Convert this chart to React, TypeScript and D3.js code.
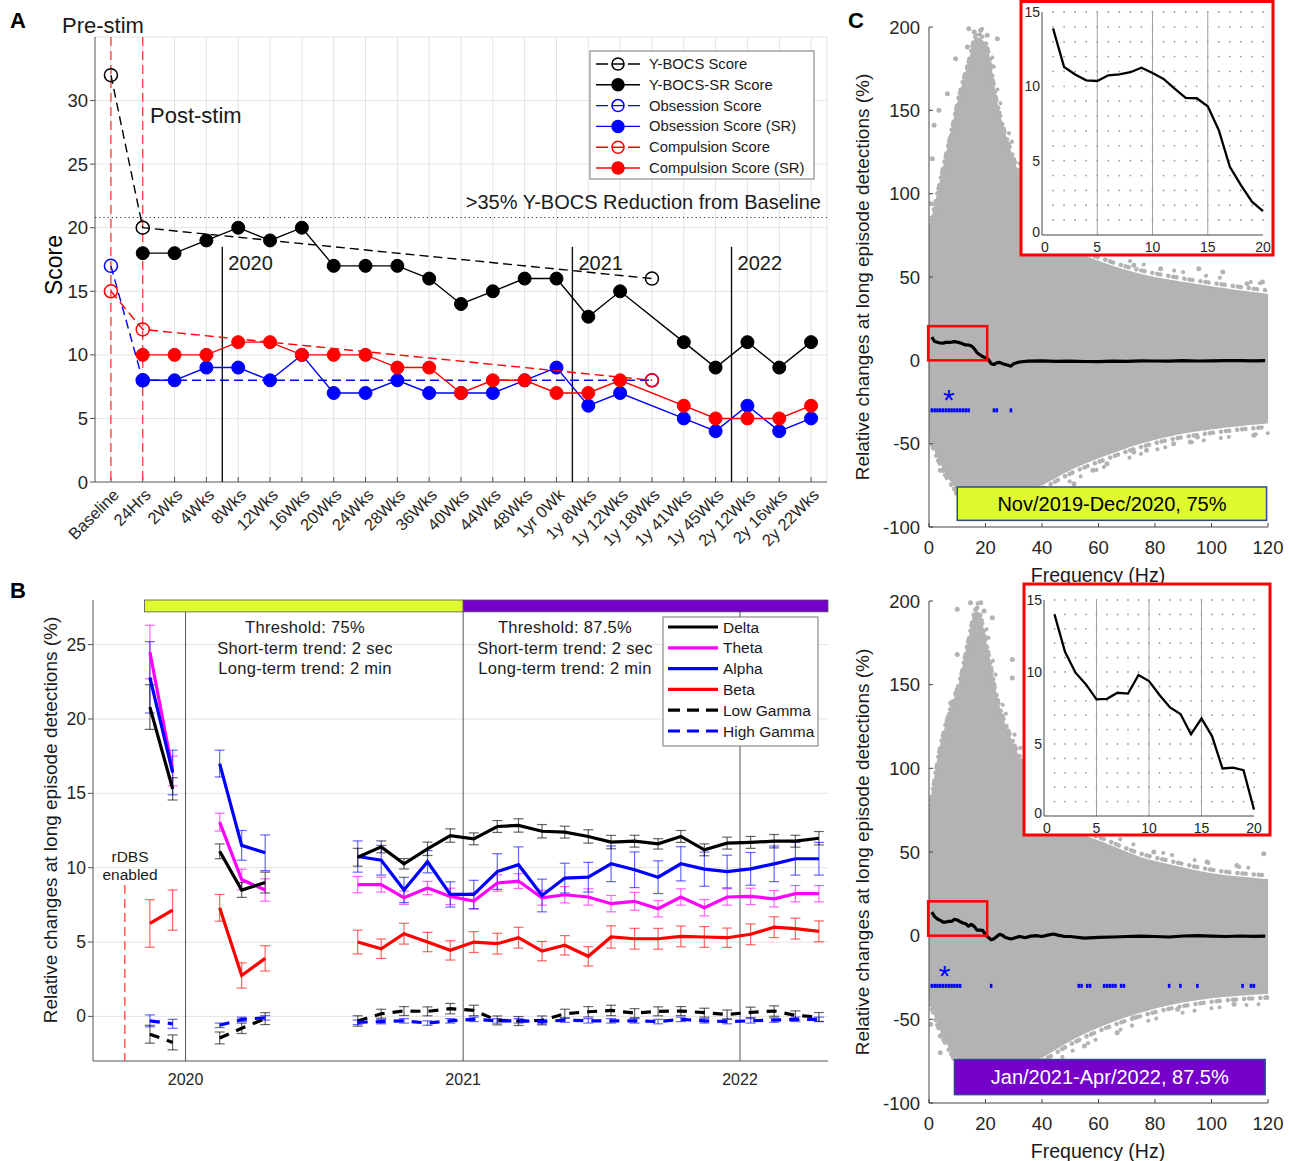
import React from "react";
import * as d3 from "d3";

const FONT = "'Liberation Sans', Arial, Helvetica, sans-serif";
const TXT = "#262626";

// ---------------- Panel A data ----------------
const visits = ["Baseline", "24Hrs", "2Wks", "4Wks", "8Wks", "12Wks", "16Wks", "20Wks", "24Wks", "28Wks", "36Wks", "40Wks", "44Wks", "48Wks", "1yr 0Wk", "1y 8Wks", "1y 12Wks", "1y 18Wks", "1y 41Wks", "1y 45Wks", "2y 12Wks", "2y 16wks", "2y 22Wks"];
const N = null;
const ybocsClin = [32, 20, N, N, N, N, N, N, N, N, N, N, N, N, N, N, N, 16, N, N, N, N, N];
const ybocsSR = [N, 18, 18, 19, 20, 19, 20, 17, 17, 17, 16, 14, 15, 16, 16, 13, 15, N, 11, 9, 11, 9, 11];
const obsClin = [17, 8, N, N, N, N, N, N, N, N, N, N, N, N, N, N, N, 8, N, N, N, N, N];
const obsSR = [N, 8, 8, 9, 9, 8, 10, 7, 7, 8, 7, 7, 7, 8, 9, 6, 7, N, 5, 4, 6, 4, 5];
const compClin = [15, 12, N, N, N, N, N, N, N, N, N, N, N, N, N, N, N, 8, N, N, N, N, N];
const compSR = [N, 10, 10, 10, 11, 11, 10, 10, 10, 9, 9, 7, 8, 8, 7, 7, 8, N, 6, 5, 5, 5, 6];
const yearMarks = [
  { pos: 4.5, label: "2020" },
  { pos: 15.5, label: "2021" },
  { pos: 20.5, label: "2022" },
];
const reductionLevel = 20.8;

// ---------------- Panel B data ----------------
const months = ["2019-11", "2019-12", "2020-01", "2020-02", "2020-03", "2020-04", "2020-05", "2020-06", "2020-07", "2020-08", "2020-09", "2020-10", "2020-11", "2020-12", "2021-01", "2021-02", "2021-03", "2021-04", "2021-05", "2021-06", "2021-07", "2021-08", "2021-09", "2021-10", "2021-11", "2021-12", "2022-01", "2022-02", "2022-03", "2022-04"];
const delta = [20.8, 15.3, N, 11.1, 8.5, 9.0, N, N, N, 10.7, 11.4, 10.26, 11.27, 12.16, 11.94, 12.77, 12.84, 12.45, 12.39, 12.1, 11.72, 11.78, 11.6, 12.1, 11.2, 11.65, 11.7, 11.78, 11.78, 11.98];
const deltaErr = [1.5, 0.75, N, 0.5, 0.5, 0.7, N, N, N, 0.6, 0.4, 0.35, 0.45, 0.45, 0.4, 0.4, 0.45, 0.45, 0.4, 0.45, 0.45, 0.4, 0.35, 0.4, 0.4, 0.4, 0.4, 0.45, 0.4, 0.45];
const theta = [24.5, 16.5, N, 13.06, 9.2, 8.5, N, N, N, 8.86, 8.86, 7.98, 8.63, 8.07, 7.76, 8.97, 9.1, 7.98, 8.18, 8.03, 7.58, 7.74, 7.24, 8.03, 7.31, 8.03, 8.07, 7.91, 8.25, 8.25];
const thetaErr = [1.8, 1.0, N, 0.6, 0.7, 0.75, N, N, N, 0.55, 0.5, 0.45, 0.45, 0.55, 0.55, 0.55, 0.5, 0.5, 0.55, 0.55, 0.55, 0.6, 0.55, 0.55, 0.55, 0.55, 0.55, 0.55, 0.55, 0.55];
const alpha = [22.8, 16.4, N, 17.0, 11.5, 11.0, N, N, N, 10.75, 10.5, 8.5, 10.4, 8.2, 8.2, 9.74, 10.2, 8.13, 9.3, 9.36, 10.26, 9.86, 9.36, 10.26, 9.9, 9.74, 9.92, 10.26, 10.6, 10.6];
const alphaErr = [2.4, 1.5, N, 0.9, 1.0, 1.2, N, N, N, 1.05, 1.0, 0.85, 0.75, 0.85, 0.95, 1.2, 1.2, 1.1, 1.0, 1.0, 1.2, 1.2, 1.1, 1.15, 1.15, 1.1, 1.1, 1.2, 1.1, 1.1];
const beta = [6.25, 7.15, N, 7.3, 2.75, 3.9, N, N, N, 5.0, 4.55, 5.56, 5.0, 4.44, 5.0, 4.89, 5.29, 4.39, 4.78, 4.04, 5.34, 5.22, 5.22, 5.38, 5.34, 5.29, 5.52, 6.0, 5.9, 5.72];
const betaErr = [1.6, 1.35, N, 0.9, 0.85, 0.85, N, N, N, 0.8, 0.65, 0.7, 0.65, 0.65, 0.7, 0.7, 0.7, 0.65, 0.65, 0.65, 0.75, 0.7, 0.7, 0.7, 0.7, 0.65, 0.7, 0.7, 0.7, 0.7];
const lowGamma = [-1.2, -1.75, N, -1.45, -0.8, -0.15, N, N, N, -0.31, 0.18, 0.36, 0.34, 0.52, 0.4, -0.27, -0.31, -0.27, 0.18, 0.31, 0.4, 0.22, 0.34, 0.36, 0.25, 0.13, 0.27, 0.36, 0.07, -0.04];
const lowGammaErr = [0.6, 0.5, N, 0.4, 0.35, 0.4, N, N, N, 0.35, 0.3, 0.3, 0.3, 0.35, 0.35, 0.3, 0.3, 0.3, 0.3, 0.35, 0.35, 0.3, 0.3, 0.3, 0.3, 0.3, 0.35, 0.35, 0.3, 0.3];
const highGamma = [-0.3, -0.5, N, -0.6, -0.2, -0.1, N, N, N, -0.4, -0.35, -0.3, -0.45, -0.3, -0.2, -0.3, -0.3, -0.35, -0.25, -0.3, -0.3, -0.3, -0.35, -0.2, -0.3, -0.35, -0.3, -0.25, -0.2, -0.2];
const highGammaErr = [0.4, 0.3, N, 0.15, 0.15, 0.15, N, N, N, 0.15, 0.15, 0.15, 0.15, 0.15, 0.15, 0.15, 0.15, 0.15, 0.15, 0.15, 0.15, 0.15, 0.15, 0.15, 0.15, 0.15, 0.15, 0.15, 0.15, 0.15];
const rdbsDate = "2019-10-13";
const period1 = ["2019-11-08", "2021-01-01"];
const period2 = ["2021-01-01", "2022-04-27"];

// ---------------- Panel C data ----------------
const envHz = [0.5, 4, 8, 11, 14, 17, 20, 24, 30, 40, 50, 63, 75, 87, 98, 119.5];
const envUpper1 = [78, 105, 135, 158, 176, 193, 188, 152, 118, 84, 67, 57, 51, 47, 44, 39];
const envLower1 = [-45, -60, -72, -78, -82, -85, -86, -86, -82, -74, -65, -56, -49, -44, -41, -37];
const envUpper2 = [75, 110, 135, 150, 174, 193, 174, 140, 112, 82, 64, 54, 46, 41, 37, 33];
const envLower2 = [-38, -55, -68, -75, -80, -83, -85, -84, -80, -72, -62, -52, -45, -40, -37, -34];
const outliers1 = [[9.4, 181], [14.1, 199], [18.3, 198], [20.6, 195], [13.6, 188], [24.2, 193], [16, 197], [1.8, 141], [3.5, 150], [6.5, 160], [1.2, 121], [0.8, 94], [38.3, 94], [41.8, 90], [72.5, 57], [82, 55], [95.5, 55], [104, 53], [118, 47], [112.6, 46], [51.3, 74], [95, -46], [115, -45], [86.6, -50], [92.5, -49], [63, -62], [72.5, -55], [77, -54], [39.5, -84], [51.3, -74], [4, -66], [3, -55], [30, -90], [22, -92], [45, -78], [58, -66]];
const outliers2 = [[10, 195], [14.7, 199], [18.3, 199], [19.5, 194], [22.4, 190], [10, 168], [7.7, 139], [29.5, 165], [29.5, 154], [1.2, 78], [0.6, 70], [118.5, 49], [109, 42], [98.4, 44], [79.6, 50], [39.5, 88], [0.6, -53], [4, -60], [119.6, -37], [108, -41], [72.5, -49], [66.6, -58], [39.5, -76], [27.7, -84], [16, -86], [4, -70], [55, -66], [88, -44]];
const insetHz = [1, 2, 3, 4, 5, 6, 7, 8, 9, 10, 11, 12, 13, 14, 15, 16, 17, 18, 19, 20];
const inset1 = [13.9, 11.3, 10.8, 10.4, 10.36, 10.74, 10.8, 10.95, 11.25, 10.9, 10.5, 9.85, 9.23, 9.2, 8.66, 7.05, 4.59, 3.36, 2.24, 1.6];
const inset2 = [14.0, 11.4, 9.95, 9.14, 8.1, 8.14, 8.56, 8.5, 9.79, 9.37, 8.4, 7.54, 7.08, 5.68, 6.77, 5.55, 3.3, 3.36, 3.18, 0.44];
const tailHz1 = [21, 22, 23, 24, 25, 26, 27, 28, 29, 30, 32, 35, 40, 45, 50, 55, 60, 65, 70, 75, 80, 85, 90, 95, 100, 105, 110, 115, 119];
const tail1 = [0.5, -2, -2.5, -1.5, -1.2, -2, -2.5, -3, -3.5, -2, -1, -0.5, -0.3, -0.6, -0.5, -0.7, -0.8, -0.5, -0.6, -0.3, -0.4, -0.5, -0.2, -0.4, -0.3, -0.2, -0.2, -0.3, -0.2];
const tailHz2 = [21, 22, 23, 24, 25, 26, 27, 28, 29, 30, 32, 34, 36, 38, 40, 42, 44, 46, 48, 50, 55, 60, 65, 70, 75, 80, 85, 90, 95, 100, 105, 110, 115, 119];
const tail2 = [-1, -2.5, -1.8, -0.5, 0.8, 0.2, -1, -1.5, -2, -1.5, -0.5, -1.2, -0.3, 0, -0.5, 0.3, 1, 0.2, -0.5, -0.5, -1.5, -1, -0.8, -0.5, -0.3, -0.5, -0.8, -0.2, 0, -0.3, -0.5, -0.2, -0.4, -0.3];
const sigHz1 = [1, 2, 3, 4, 5, 6, 7, 8, 9, 10, 11, 12, 13, 14, 23, 24, 29];
const sigHz2 = [1, 2, 3, 4, 5, 6, 7, 8, 9, 10, 11, 22, 53, 54, 56, 57, 62, 63, 64, 65, 66, 68, 69, 85, 89, 95, 111, 114, 115];

const YELLOW = "#ddfb2e";
const PURPLE = "#7400c9";
const CLOUD = "#b3b3b3";

function PanelA() {
  const x = d3.scaleLinear().domain([0.5, 23.5]).range([95, 827]);
  const y = d3.scaleLinear().domain([0, 35]).range([482, 37]);
  const pts = (arr: (number | null)[]) =>
    arr.map((v, i) => [i + 1, v] as [number, number | null]).filter((d) => d[1] != null) as [number, number][];
  const line = d3.line<[number, number]>().x((d) => x(d[0])).y((d) => y(d[1]));
  const series = [
    { name: "Y-BOCS Score", data: ybocsClin, color: "#000", open: true },
    { name: "Y-BOCS-SR Score", data: ybocsSR, color: "#000", open: false },
    { name: "Obsession Score", data: obsClin, color: "#0000ff", open: true },
    { name: "Obsession Score (SR)", data: obsSR, color: "#0000ff", open: false },
    { name: "Compulsion Score", data: compClin, color: "#ff0000", open: true },
    { name: "Compulsion Score (SR)", data: compSR, color: "#ff0000", open: false },
  ];
  const [x0, x1] = x.range();
  const [yb, yt] = y.range();
  return (
    <g>
      {/* grid */}
      {visits.map((_, i) => (
        <line key={"vg" + i} x1={x(i + 1)} x2={x(i + 1)} y1={yt} y2={yb} stroke="#e3e3e3" />
      ))}
      {d3.range(5, 40, 5).map((v) => (
        <line key={"hg" + v} x1={x0} x2={x1} y1={y(v)} y2={y(v)} stroke="#e3e3e3" />
      ))}
      <line x1={x1} x2={x1} y1={yt} y2={yb} stroke="#e3e3e3" />
      {/* axes */}
      <line x1={x0} x2={x0} y1={yt} y2={yb} stroke="#555" />
      <line x1={x0} x2={x1} y1={yb} y2={yb} stroke="#555" />
      {d3.range(0, 35, 5).map((v) => (
        <g key={"yt" + v}>
          <line x1={x0 - 5} x2={x0} y1={y(v)} y2={y(v)} stroke="#555" />
          <text x={x0 - 7} y={y(v) + 6.5} textAnchor="end" fontSize={18.5} fill={TXT}>{v}</text>
        </g>
      ))}
      {visits.map((lab, i) => (
        <g key={"xt" + i}>
          <line x1={x(i + 1)} x2={x(i + 1)} y1={yb} y2={yb - 5} stroke="#555" />
          <text transform={`translate(${x(i + 1) + 9},${yb + 14}) rotate(-45)`} textAnchor="end" fontSize={16.5} fill={TXT}>{lab}</text>
        </g>
      ))}
      <text transform={`translate(62,265) rotate(-90)`} textAnchor="middle" fontSize={23} fill="#000">Score</text>
      {/* stim markers */}
      {[1, 2].map((p) => (
        <line key={"stim" + p} x1={x(p)} x2={x(p)} y1={yt} y2={yb} stroke="#ff3030" strokeWidth={1.2} strokeDasharray="9,5" />
      ))}
      <text x={62} y={33} fontSize={22} fill="#1a1a1a">Pre-stim</text>
      <text x={150} y={123} fontSize={22} fill="#1a1a1a">Post-stim</text>
      {/* reduction threshold */}
      <line x1={x0} x2={x1} y1={y(reductionLevel)} y2={y(reductionLevel)} stroke="#333" strokeDasharray="1.2,3" />
      <text x={821} y={209} textAnchor="end" fontSize={20} fill="#1a1a1a">&gt;35% Y-BOCS Reduction from Baseline</text>
      {/* year markers */}
      {yearMarks.map((m) => (
        <g key={m.label}>
          <line x1={x(m.pos)} x2={x(m.pos)} y1={y(18.5)} y2={yb} stroke="#111" strokeWidth={1.4} />
          <text x={x(m.pos) + 6} y={y(16.7)} fontSize={20} fill="#1a1a1a">{m.label}</text>
        </g>
      ))}
      {/* series */}
      {series.map((s) => {
        const p = pts(s.data);
        return (
          <g key={s.name}>
            <path d={line(p) || ""} fill="none" stroke={s.color} strokeWidth={1.4} strokeDasharray={s.open ? "9,5" : undefined} />
            {p.map((d, i) => (
              <circle key={i} cx={x(d[0])} cy={y(d[1])} r={6.5} fill={s.open ? "none" : s.color} stroke={s.color} strokeWidth={s.open ? 1.5 : 1} />
            ))}
          </g>
        );
      })}
      {/* legend */}
      <rect x={590} y={51} width={224} height={128} fill="#fff" stroke="#777" />
      {series.map((s, i) => {
        const cy = 64 + i * 20.8;
        return (
          <g key={"lg" + i}>
            <line x1={596} x2={640} y1={cy} y2={cy} stroke={s.color} strokeWidth={1.4} strokeDasharray={s.open ? "12,4" : undefined} />
            <circle cx={618} cy={cy} r={6} fill={s.open ? "none" : s.color} stroke={s.color} strokeWidth={1.5} />
            <text x={649} y={cy + 5} fontSize={14.8} fill="#1a1a1a">{s.name}</text>
          </g>
        );
      })}
      <text x={10} y={28} fontSize={22} fontWeight="bold" fill="#000">A</text>
    </g>
  );
}

function PanelB() {
  const parse = d3.timeParse("%Y-%m-%d");
  const x = d3.scaleTime().domain([parse("2019-09-01")!, parse("2022-04-27")!]).range([93, 828]);
  const y = d3.scaleLinear().domain([-3, 28]).range([1061, 600]);
  const dates = months.map((m) => parse(m + "-15")!);
  const [x0, x1] = x.range();
  const [yb, yt] = y.range();
  const bands = [
    { name: "Delta", v: delta, e: deltaErr, color: "#000000", dash: undefined },
    { name: "Theta", v: theta, e: thetaErr, color: "#ff00ff", dash: undefined },
    { name: "Alpha", v: alpha, e: alphaErr, color: "#0000ff", dash: undefined },
    { name: "Beta", v: beta, e: betaErr, color: "#ff0000", dash: undefined },
    { name: "Low Gamma", v: lowGamma, e: lowGammaErr, color: "#000000", dash: "10,8" },
    { name: "High Gamma", v: highGamma, e: highGammaErr, color: "#0000ff", dash: "10,8" },
  ];
  const line = d3
    .line<number | null>()
    .defined((d) => d != null)
    .x((_, i) => x(dates[i]))
    .y((d) => y(d as number));
  const years = ["2020-01-01", "2021-01-01", "2022-01-01"].map((s) => parse(s)!);
  const drawOrder = [4, 5, 3, 1, 2, 0];
  return (
    <g>
      {d3.range(0, 30, 5).map((v) => (
        <line key={"g" + v} x1={x0} x2={x1} y1={y(v)} y2={y(v)} stroke="#e3e3e3" />
      ))}
      {years.map((d, i) => (
        <line key={"yr" + i} x1={x(d)} x2={x(d)} y1={yt} y2={yb} stroke="#555" strokeWidth={1} />
      ))}
      <line x1={x0} x2={x0} y1={yt} y2={yb} stroke="#555" />
      <line x1={x0} x2={x1} y1={yb} y2={yb} stroke="#555" />
      {d3.range(0, 30, 5).map((v) => (
        <g key={"yt" + v}>
          <line x1={x0 - 5} x2={x0} y1={y(v)} y2={y(v)} stroke="#555" />
          <text x={x0 - 7} y={y(v) + 6} textAnchor="end" fontSize={17.5} fill={TXT}>{v}</text>
        </g>
      ))}
      {years.map((d, i) => (
        <text key={"xl" + i} x={x(d)} y={yb + 24} textAnchor="middle" fontSize={16} fill={TXT}>{d3.timeFormat("%Y")(d)}</text>
      ))}
      {/* period bars */}
      <rect x={x(parse(period1[0])!)} y={y(28)} width={x(parse(period1[1])!) - x(parse(period1[0])!)} height={y(27.2) - y(28)} fill={YELLOW} stroke="#555" strokeWidth={0.8} />
      <rect x={x(parse(period2[0])!)} y={y(28)} width={x(parse(period2[1])!) - x(parse(period2[0])!)} height={y(27.2) - y(28)} fill={PURPLE} stroke="#555" strokeWidth={0.8} />
      {/* rDBS */}
      <line x1={x(parse(rdbsDate)!)} x2={x(parse(rdbsDate)!)} y1={885} y2={yb} stroke="#ff3030" strokeWidth={1.2} strokeDasharray="9,5" />
      <text x={130} y={862} textAnchor="middle" fontSize={15.5} fill="#1a1a1a">rDBS</text>
      <text x={130} y={880} textAnchor="middle" fontSize={15.5} fill="#1a1a1a">enabled</text>
      {/* threshold notes */}
      {[
        { cx: 305, t: "Threshold: 75%" },
        { cx: 565, t: "Threshold: 87.5%" },
      ].map((n) => (
        <g key={n.t} fontSize={16.5} fill="#1a1a1a" textAnchor="middle" letterSpacing={0.3}>
          <text x={n.cx} y={633}>{n.t}</text>
          <text x={n.cx} y={654}>Short-term trend: 2 sec</text>
          <text x={n.cx} y={674}>Long-term trend: 2 min</text>
        </g>
      ))}
      {/* error bars */}
      {drawOrder.map((k) => {
        const b = bands[k];
        return (
          <g key={"eb" + k} stroke={b.color} strokeOpacity={0.6} strokeWidth={1.2}>
            {b.v.map((v, i) => {
              if (v == null) return null;
              const e = b.e[i] as number;
              const cx = x(dates[i]);
              return (
                <g key={i}>
                  <line x1={cx} x2={cx} y1={y(v - e)} y2={y(v + e)} />
                  <line x1={cx - 5} x2={cx + 5} y1={y(v - e)} y2={y(v - e)} />
                  <line x1={cx - 5} x2={cx + 5} y1={y(v + e)} y2={y(v + e)} />
                </g>
              );
            })}
          </g>
        );
      })}
      {drawOrder.map((k) => {
        const b = bands[k];
        return <path key={"ln" + k} d={line(b.v) || ""} fill="none" stroke={b.color} strokeWidth={3.2} strokeDasharray={b.dash} />;
      })}
      {/* legend */}
      <rect x={663} y={617} width={155} height={129} fill="#fff" stroke="#777" />
      {bands.map((b, i) => {
        const cy = 627 + i * 20.8;
        return (
          <g key={"lg" + i}>
            <line x1={668} x2={718} y1={cy} y2={cy} stroke={b.color} strokeWidth={3.2} strokeDasharray={b.dash ? "12,7" : undefined} />
            <text x={723} y={cy + 5.5} fontSize={15.5} fill="#1a1a1a">{b.name}</text>
          </g>
        );
      })}
      <text transform={`translate(57,820) rotate(-90)`} textAnchor="middle" fontSize={19} fill="#1a1a1a">Relative changes at long episode detections (%)</text>
      <text x={10} y={598} fontSize={22} fontWeight="bold" fill="#000">B</text>
    </g>
  );
}

type CProps = {
  yPix: [number, number];
  upper: number[];
  lower: number[];
  outliers: number[][];
  inset: number[];
  tailHz: number[];
  tail: number[];
  sigHz: number[];
  starHz: number;
  box: { x0: number; y0: number; x1: number; y1: number };
  ax: { l: number; r: number; t: number; b: number };
  label: string;
  labelFill: string;
  labelColor: string;
  labelHz: [number, number];
  labelVal: [number, number];
  letter?: string;
};

function PanelC(p: CProps) {
  const x = d3.scaleLinear().domain([0, 120]).range([929, 1268]);
  const y = d3.scaleLinear().domain([-100, 200]).range(p.yPix);
  const area = d3
    .area<number>()
    .x((_, i) => x(envHz[i]))
    .y0((_, i) => y(p.lower[i]))
    .y1((d) => y(d))
    .curve(d3.curveMonotoneX);
  const edge = d3
    .line<number>()
    .x((_, i) => x(envHz[i]))
    .y((d) => y(d))
    .curve(d3.curveMonotoneX);
  const meanHz = insetHz.concat(p.tailHz);
  const meanVal = p.inset.concat(p.tail);
  const mline = d3
    .line<number>()
    .x((_, i) => x(meanHz[i]))
    .y((d) => y(d));
  const xi = d3.scaleLinear().domain([0, 20]).range([p.ax.l, p.ax.r]);
  const yi = d3.scaleLinear().domain([0, 15]).range([p.ax.b, p.ax.t]);
  const iline = d3
    .line<number>()
    .x((_, i) => xi(insetHz[i]))
    .y((d) => yi(d));
  const [yb, yt] = y.range();
  return (
    <g>
      <defs>
        <clipPath id={"clip" + p.yPix[1]}>
          <rect x={929} y={yt - 5} width={342} height={yb - yt + 5} />
        </clipPath>
      </defs>
      <g clipPath={`url(#clip${p.yPix[1]})`}>
        <path d={area(p.upper) || ""} fill={CLOUD} stroke={CLOUD} strokeWidth={3} />
        {/* fuzzy edges of the dense cloud */}
        <path d={edge(p.upper) || ""} transform="translate(0,-5)" fill="none" stroke={CLOUD} strokeWidth={4.5} strokeLinecap="round" strokeDasharray="0.1,5,0.1,3,0.1,8" />
        <path d={edge(p.lower) || ""} transform="translate(0,5)" fill="none" stroke={CLOUD} strokeWidth={4.5} strokeLinecap="round" strokeDasharray="0.1,5,0.1,3,0.1,8" />
        <path d={edge(p.upper) || ""} transform="translate(2,-11)" fill="none" stroke={CLOUD} strokeWidth={4} strokeLinecap="round" strokeDasharray="0.1,9,0.1,23,0.1,14,0.1,31" />
        <path d={edge(p.lower) || ""} transform="translate(3,11)" fill="none" stroke={CLOUD} strokeWidth={4} strokeLinecap="round" strokeDasharray="0.1,17,0.1,8,0.1,27,0.1,12" />
        {p.outliers.map((o, i) => (
          <circle key={i} cx={x(o[0])} cy={y(o[1])} r={2.5} fill={CLOUD} />
        ))}
      </g>
      {/* axes */}
      <line x1={929} x2={929} y1={yt} y2={yb} stroke="#444" />
      <line x1={929} x2={1268} y1={yb} y2={yb} stroke="#444" />
      {d3.range(-100, 250, 50).map((v) => (
        <g key={"yt" + v}>
          <line x1={929} x2={933} y1={y(v)} y2={y(v)} stroke="#444" />
          <text x={920} y={y(v) + 6.5} textAnchor="end" fontSize={18.5} fill={TXT}>{v}</text>
        </g>
      ))}
      {d3.range(0, 140, 20).map((v) => (
        <g key={"xt" + v}>
          <line x1={x(v)} x2={x(v)} y1={yb} y2={yb - 4} stroke="#444" />
          <text x={x(v)} y={yb + 27} textAnchor="middle" fontSize={18.5} fill={TXT}>{v}</text>
        </g>
      ))}
      <text x={1098} y={yb + 55} textAnchor="middle" fontSize={19.5} fill="#1a1a1a">Frequency (Hz)</text>
      <text transform={`translate(869,${(yt + yb) / 2}) rotate(-90)`} textAnchor="middle" fontSize={19} fill="#1a1a1a">Relative changes at long episode detections (%)</text>
      {/* mean line */}
      <path d={mline(meanVal) || ""} fill="none" stroke="#000" strokeWidth={3.2} strokeLinejoin="round" />
      <rect x={x(-0.3)} y={y(20.5)} width={x(20.6) - x(-0.3)} height={y(0) - y(20.5)} fill="none" stroke="#ff0000" strokeWidth={2.5} />
      {/* significance */}
      {p.sigHz.map((f) => (
        <rect key={"s" + f} x={x(f - 0.45)} y={y(-30) - 2} width={x(f + 0.45) - x(f - 0.45)} height={4} fill="#0000ff" />
      ))}
      <text x={x(p.starHz)} y={y(-21) + 15} textAnchor="middle" fontSize={30} fill="#0000ff">*</text>
      {/* period label */}
      <rect x={x(p.labelHz[0])} y={y(p.labelVal[1])} width={x(p.labelHz[1]) - x(p.labelHz[0])} height={y(p.labelVal[0]) - y(p.labelVal[1])} fill={p.labelFill} stroke="#2e4a8c" strokeWidth={1.5} />
      <text x={(x(p.labelHz[0]) + x(p.labelHz[1])) / 2} y={(y(p.labelVal[0]) + y(p.labelVal[1])) / 2 + 7} textAnchor="middle" fontSize={20} fill={p.labelColor}>{p.label}</text>
      {/* inset */}
      <rect x={p.box.x0} y={p.box.y0} width={p.box.x1 - p.box.x0} height={p.box.y1 - p.box.y0} fill="#fff" stroke="#ff0000" strokeWidth={3} />
      {d3.range(1, 21).map((f) =>
        d3.range(1, 16).map((v) => <circle key={f + "-" + v} cx={xi(f)} cy={yi(v)} r={0.9} fill="#9a9a9a" />)
      )}
      {[5, 10, 15].map((f) => (
        <line key={"ig" + f} x1={xi(f)} x2={xi(f)} y1={p.ax.t} y2={p.ax.b} stroke="#a0a0a0" strokeWidth={1} />
      ))}
      <line x1={p.ax.l} x2={p.ax.l} y1={p.ax.t} y2={p.ax.b} stroke="#444" />
      <line x1={p.ax.l} x2={p.ax.r} y1={p.ax.b} y2={p.ax.b} stroke="#444" />
      {[0, 5, 10, 15].map((v) => (
        <text key={"iy" + v} x={p.ax.l - 2} y={yi(v) + (v === 0 ? 2 : 5)} textAnchor="end" fontSize={14} fill={TXT}>{v}</text>
      ))}
      {[0, 5, 10, 15, 20].map((v) => (
        <text key={"ix" + v} x={xi(v) + (v === 0 ? 3 : 0)} y={p.ax.b + 17} textAnchor="middle" fontSize={14} fill={TXT}>{v}</text>
      ))}
      <path d={iline(p.inset) || ""} fill="none" stroke="#000" strokeWidth={2.3} />
      {p.letter ? <text x={848} y={28} fontSize={22} fontWeight="bold" fill="#000">{p.letter}</text> : null}
    </g>
  );
}

export default function App() {
  return (
    <svg width={1292} height={1161} style={{ position: "absolute", left: 0, top: 0 }} fontFamily={FONT}>
      <rect width={1292} height={1161} fill="#fff" />
      <PanelA />
      <PanelB />
      <PanelC
        yPix={[527, 27]}
        upper={envUpper1}
        lower={envLower1}
        outliers={outliers1}
        inset={inset1}
        tailHz={tailHz1}
        tail={tail1}
        sigHz={sigHz1}
        starHz={7}
        box={{ x0: 1021, y0: 1.5, x1: 1273, y1: 255 }}
        ax={{ l: 1042, r: 1263, t: 12, b: 235 }}
        label="Nov/2019-Dec/2020, 75%"
        labelFill={YELLOW}
        labelColor="#000"
        labelHz={[10, 119.5]}
        labelVal={[-96, -76]}
        letter="C"
      />
      <PanelC
        yPix={[1103, 601]}
        upper={envUpper2}
        lower={envLower2}
        outliers={outliers2}
        inset={inset2}
        tailHz={tailHz2}
        tail={tail2}
        sigHz={sigHz2}
        starHz={5.5}
        box={{ x0: 1024, y0: 584, x1: 1270, y1: 835 }}
        ax={{ l: 1044, r: 1254, t: 600, b: 816 }}
        label="Jan/2021-Apr/2022, 87.5%"
        labelFill={PURPLE}
        labelColor="#fff"
        labelHz={[9, 119]}
        labelVal={[-95, -74]}
      />
    </svg>
  );
}
